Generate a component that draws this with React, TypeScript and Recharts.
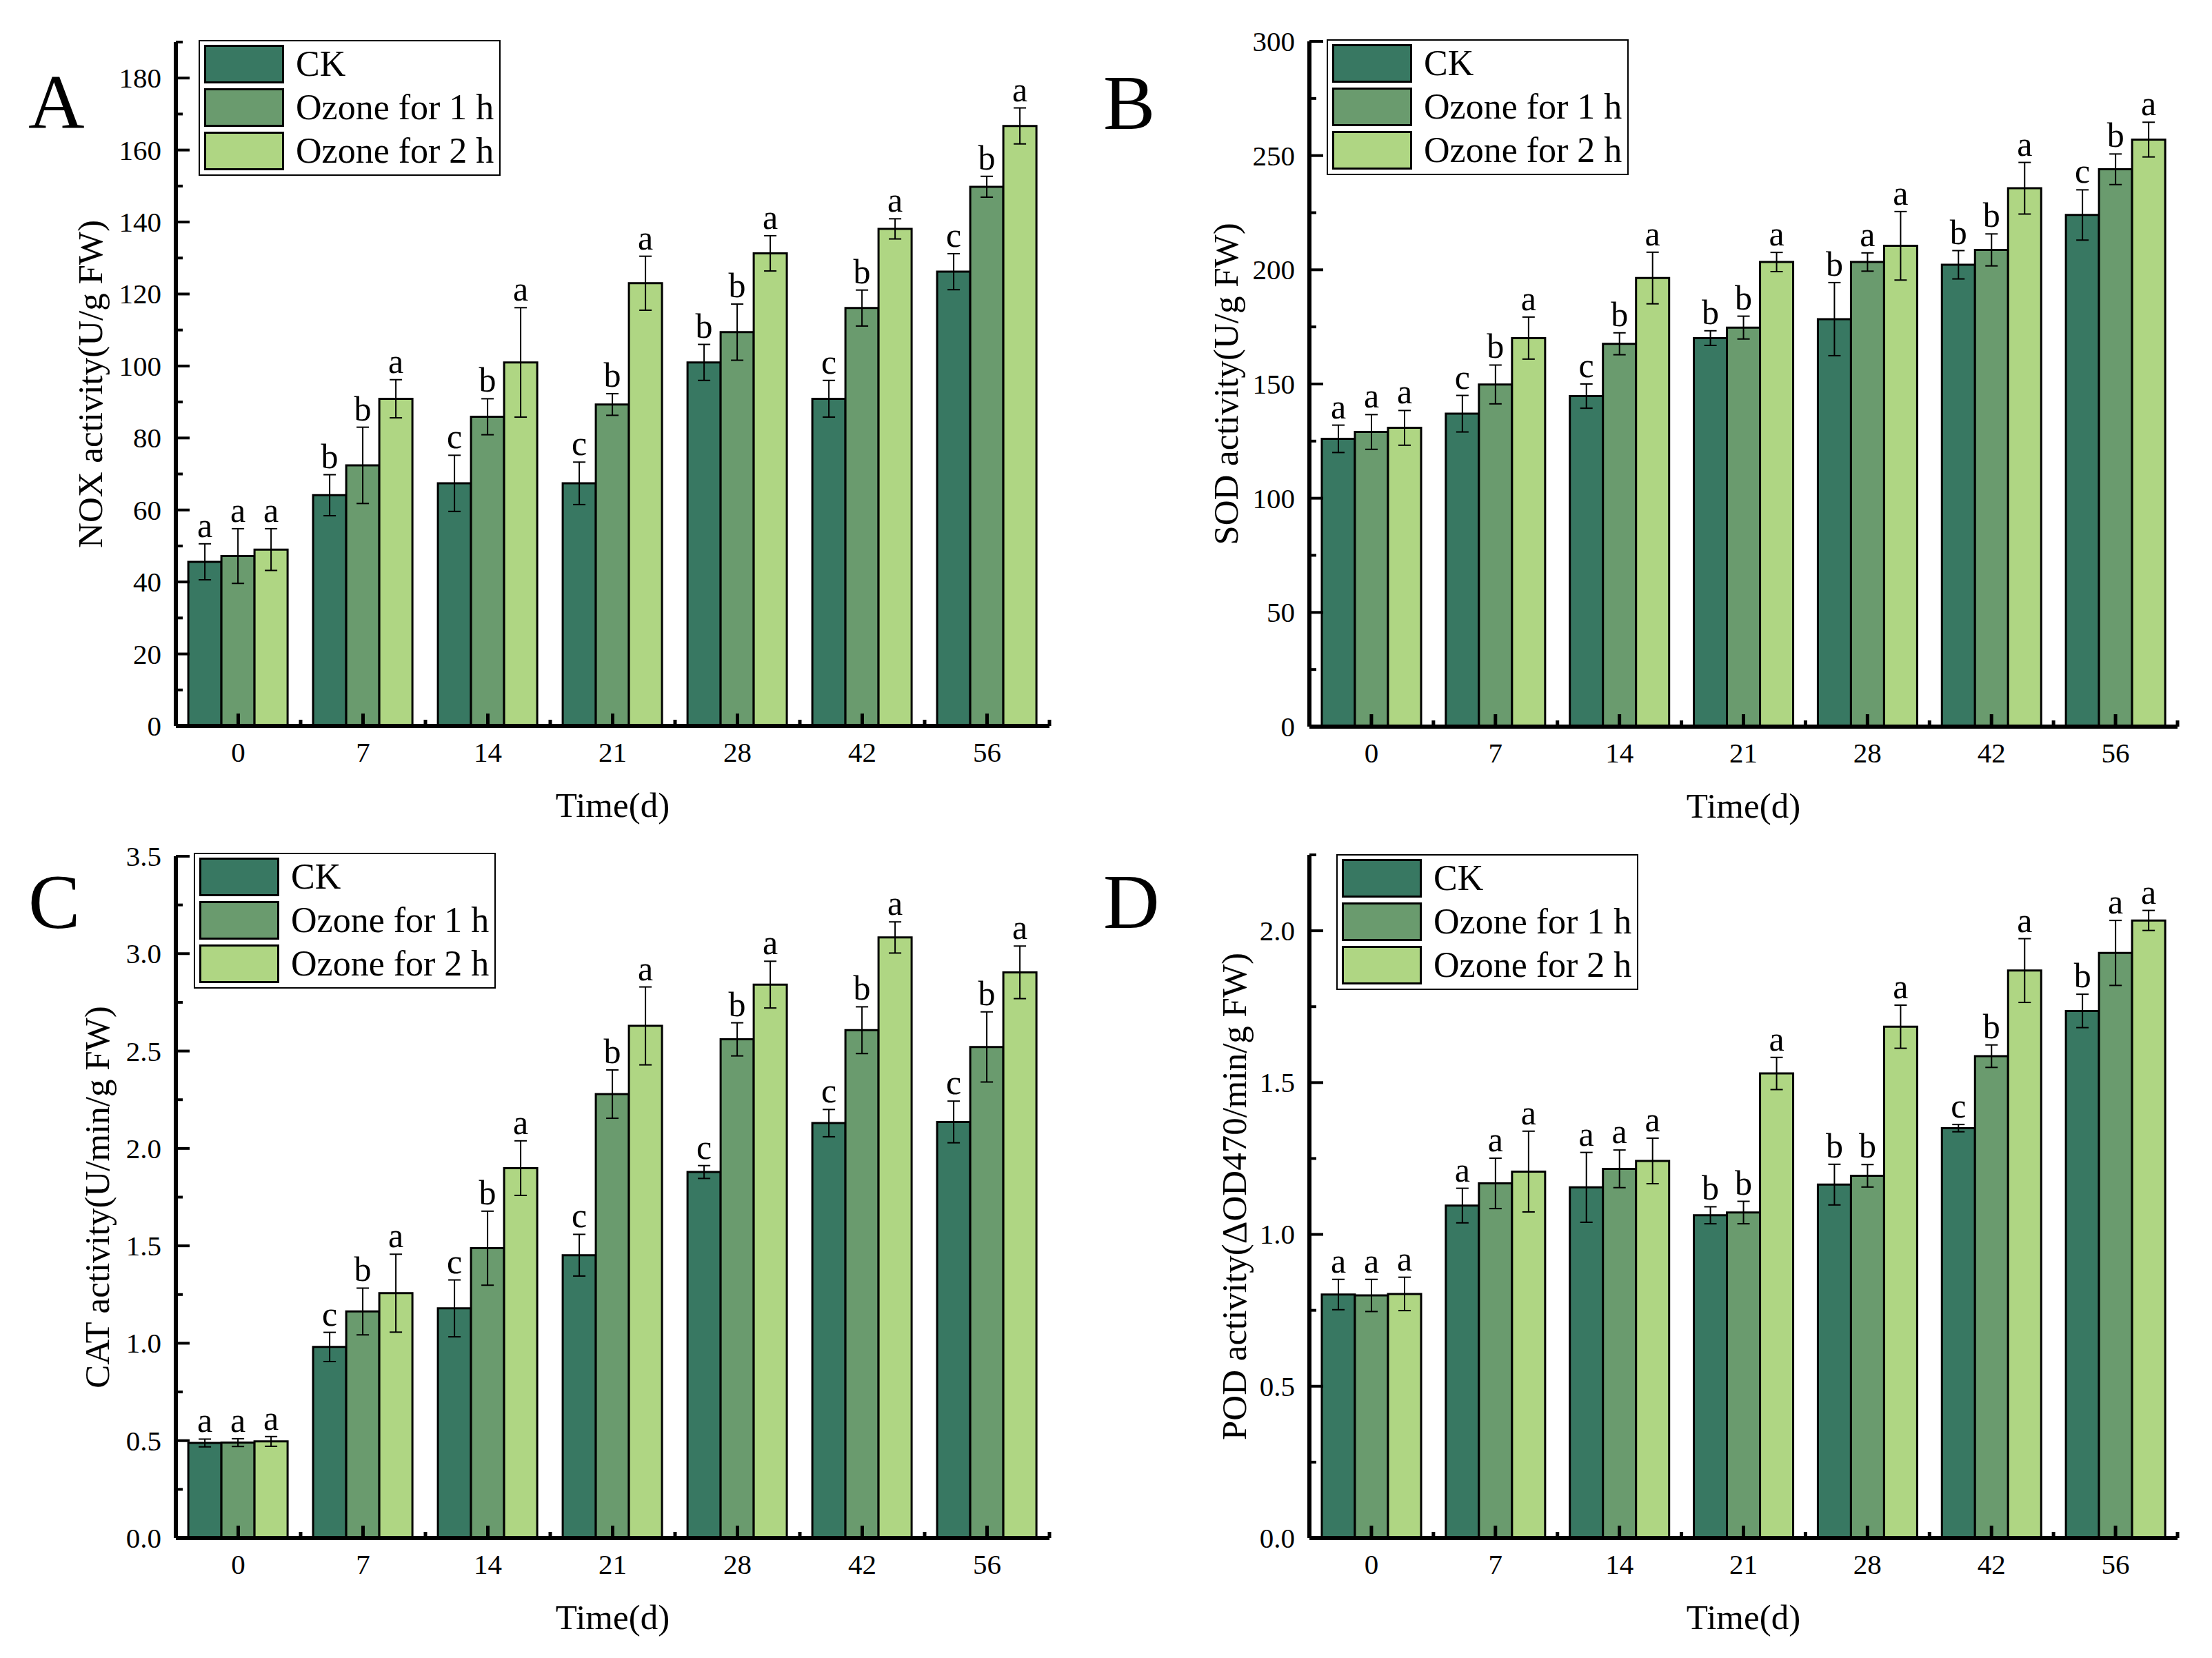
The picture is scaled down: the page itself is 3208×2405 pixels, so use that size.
import {
  Bar,
  BarChart,
  ErrorBar,
  LabelList,
  Legend,
  XAxis,
  YAxis,
} from "recharts";

const FONT = '"Liberation Serif", "Times New Roman", serif';

const DAYS = ["0", "7", "14", "21", "28", "42", "56"];
const SERIES_NAMES = ["CK", "Ozone for 1 h", "Ozone for 2 h"];
const SERIES_COLORS = ["#387862", "#6a9b6e", "#afd683"];

// A - NOX
const NOX_CK = [45.6, 64.1, 67.4, 67.4, 101.0, 90.9, 126.2];
const NOX_O1 = [47.2, 72.4, 85.9, 89.3, 109.4, 116.1, 149.8];
const NOX_O2 = [49.0, 90.9, 101.0, 123.0, 131.3, 138.1, 166.7];
const NOX_CK_ERR = [5.0, 5.7, 7.8, 5.9, 5.0, 5.1, 5.0];
const NOX_O1_ERR = [7.6, 10.6, 5.0, 3.0, 7.8, 5.0, 2.9];
const NOX_O2_ERR = [5.8, 5.3, 15.2, 7.5, 4.9, 2.8, 5.0];
const NOX_CK_SIG = ["a", "b", "c", "c", "b", "c", "c"];
const NOX_O1_SIG = ["a", "b", "b", "b", "b", "b", "b"];
const NOX_O2_SIG = ["a", "a", "a", "a", "a", "a", "a"];
const NOX_TICKS = [0, 10, 20, 30, 40, 50, 60, 70, 80, 90, 100, 110, 120, 130, 140, 150, 160, 170, 180, 190];
const NOX_LABELS = [0, 20, 40, 60, 80, 100, 120, 140, 160, 180];

// B - SOD
const SOD_CK = [126.0, 137.0, 144.7, 170.1, 178.4, 202.2, 224.0];
const SOD_O1 = [129.0, 149.8, 167.6, 174.7, 203.4, 208.7, 244.0];
const SOD_O2 = [130.8, 170.1, 196.4, 203.4, 210.5, 235.7, 257.0];
const SOD_CK_ERR = [6.0, 8.0, 5.3, 3.2, 16.0, 6.2, 11.0];
const SOD_O1_ERR = [7.6, 8.5, 4.8, 5.0, 4.0, 7.0, 6.7];
const SOD_O2_ERR = [7.6, 9.2, 11.3, 4.2, 15.0, 11.3, 7.6];
const SOD_CK_SIG = ["a", "c", "c", "b", "b", "b", "c"];
const SOD_O1_SIG = ["a", "b", "b", "b", "a", "b", "b"];
const SOD_O2_SIG = ["a", "a", "a", "a", "a", "a", "a"];
const SOD_TICKS = [0, 25, 50, 75, 100, 125, 150, 175, 200, 225, 250, 275, 300];
const SOD_LABELS = [0, 50, 100, 150, 200, 250, 300];

// C - CAT
const CAT_CK = [0.488, 0.981, 1.179, 1.452, 1.879, 2.13, 2.136];
const CAT_O1 = [0.49, 1.163, 1.488, 2.279, 2.56, 2.607, 2.521];
const CAT_O2 = [0.496, 1.257, 1.899, 2.629, 2.841, 3.083, 2.904];
const CAT_CK_ERR = [0.02, 0.075, 0.146, 0.107, 0.033, 0.07, 0.107];
const CAT_O1_ERR = [0.02, 0.12, 0.19, 0.124, 0.085, 0.12, 0.18];
const CAT_O2_ERR = [0.025, 0.2, 0.14, 0.2, 0.12, 0.08, 0.135];
const CAT_CK_SIG = ["a", "c", "c", "c", "c", "c", "c"];
const CAT_O1_SIG = ["a", "b", "b", "b", "b", "b", "b"];
const CAT_O2_SIG = ["a", "a", "a", "a", "a", "a", "a"];
const CAT_TICKS = [0, 0.25, 0.5, 0.75, 1, 1.25, 1.5, 1.75, 2, 2.25, 2.5, 2.75, 3, 3.25, 3.5];
const CAT_LABELS = [0, 0.5, 1, 1.5, 2, 2.5, 3, 3.5];

// D - POD
const POD_CK = [0.802, 1.095, 1.155, 1.063, 1.164, 1.35, 1.736];
const POD_O1 = [0.799, 1.168, 1.216, 1.072, 1.193, 1.587, 1.927];
const POD_O2 = [0.804, 1.207, 1.242, 1.53, 1.684, 1.869, 2.034];
const POD_CK_ERR = [0.05, 0.057, 0.115, 0.028, 0.067, 0.012, 0.055];
const POD_O1_ERR = [0.053, 0.083, 0.062, 0.037, 0.037, 0.037, 0.107];
const POD_O2_ERR = [0.055, 0.133, 0.075, 0.053, 0.071, 0.105, 0.033];
const POD_CK_SIG = ["a", "a", "a", "b", "b", "c", "b"];
const POD_O1_SIG = ["a", "a", "a", "b", "b", "b", "a"];
const POD_O2_SIG = ["a", "a", "a", "a", "a", "a", "a"];
const POD_TICKS = [0, 0.25, 0.5, 0.75, 1, 1.25, 1.5, 1.75, 2, 2.25];
const POD_LABELS = [0, 0.5, 1, 1.5, 2];

const KEYS = ["ck", "o1", "o2"];

type PanelProps = {
  left: number;
  top: number;
  width: number;
  height: number;
  plot: { l: number; t: number; r: number; b: number };
  values: number[][];
  errors: number[][];
  sigs: string[][];
  ticks: number[];
  labels: number[];
  fmt: (v: number) => string;
  yTitle: string;
  yTitleOffset: number;
  legendPos: { x: number; y: number };
};

const renderLegend = (props: any) => {
  const items = props.payload || [];
  return (
    <div
      style={{
        width: 438,
        height: 197,
        border: "2px solid #000",
        boxSizing: "border-box",
        background: "#fff",
        fontFamily: FONT,
        fontSize: 52,
        paddingTop: 5,
      }}
    >
      {items.map((it: any) => (
        <div
          key={it.value}
          style={{
            display: "flex",
            alignItems: "center",
            height: 56,
            lineHeight: "56px",
            marginBottom: 7,
            paddingLeft: 6,
            whiteSpace: "nowrap",
          }}
        >
          <span
            style={{
              display: "inline-block",
              width: 116,
              height: 56,
              boxSizing: "border-box",
              border: "3px solid #000",
              background: it.color,
              marginRight: 17,
            }}
          />
          <span>{it.value}</span>
        </div>
      ))}
    </div>
  );
};

function Panel(p: PanelProps) {
  const data = DAYS.map((d, i) => ({
    day: d,
    ck: p.values[0][i],
    o1: p.values[1][i],
    o2: p.values[2][i],
    ckErr: p.errors[0][i],
    o1Err: p.errors[1][i],
    o2Err: p.errors[2][i],
    ckSig: p.sigs[0][i],
    o1Sig: p.sigs[1][i],
    o2Sig: p.sigs[2][i],
  }));
  const band = (p.plot.r - p.plot.l) / DAYS.length;
  const maxY = p.ticks[p.ticks.length - 1];

  const yTick = (props: any) => {
    const { x, y, payload } = props;
    const v = payload.value;
    const major = p.labels.some((l) => Math.abs(l - v) < 1e-9);
    const ax = x + 21;
    return (
      <g>
        <line x1={ax} x2={ax + (major ? 20 : 10)} y1={y} y2={y} stroke="#000" strokeWidth={4} />
        {major && (
          <text x={x} y={y} dy="0.34em" textAnchor="end" fontFamily={FONT} fontSize={41} fill="#000">
            {p.fmt(v)}
          </text>
        )}
      </g>
    );
  };

  const xTick = (props: any) => {
    const { x, y, payload, index } = props;
    const ay = y - 52;
    return (
      <g>
        <line x1={x} x2={x} y1={ay} y2={ay - 18} stroke="#000" strokeWidth={5} />
        {index > 0 && (
          <line x1={x - band / 2} x2={x - band / 2} y1={ay} y2={ay - 9} stroke="#000" strokeWidth={5} />
        )}
        {index === DAYS.length - 1 && (
          <line x1={x + band / 2} x2={x + band / 2} y1={ay} y2={ay - 9} stroke="#000" strokeWidth={5} />
        )}
        <text x={x} y={y} textAnchor="middle" fontFamily={FONT} fontSize={41} fill="#000">
          {payload.value}
        </text>
      </g>
    );
  };

  const sigLabel = (s: number) => (props: any) => {
    const vb = props.viewBox || props;
    const { x, y, width, height } = vb;
    const i = props.index;
    const v = p.values[s][i];
    const e = p.errors[s][i];
    const errTop = y - (e * height) / v;
    return (
      <text
        key={`sig-${s}-${i}`}
        x={x + width / 2}
        y={errTop - 10}
        textAnchor="middle"
        fontFamily={FONT}
        fontSize={50}
        fill="#000"
      >
        {props.value}
      </text>
    );
  };

  const cy = (p.plot.t + p.plot.b) / 2;
  const tx = p.plot.l - p.yTitleOffset;

  return (
    <div style={{ position: "absolute", left: p.left, top: p.top }}>
      <BarChart
        width={p.width}
        height={p.height}
        data={data}
        margin={{ top: p.plot.t, right: p.width - p.plot.r, bottom: 0, left: 0 }}
        barCategoryGap="10%"
        barGap={0}
      >
        <Legend
          layout="vertical"
          align="center"
          verticalAlign="middle"
          content={renderLegend}
          wrapperStyle={{ left: p.legendPos.x, top: p.legendPos.y, width: 438, height: 197 }}
        />
        {KEYS.map((k, s) => (
          <Bar
            key={k}
            dataKey={k}
            name={SERIES_NAMES[s]}
            fill={SERIES_COLORS[s]}
            stroke="#000"
            strokeWidth={3}
            isAnimationActive={false}
          >
            <ErrorBar dataKey={`${k}Err`} width={9} stroke="#000" strokeWidth={2} />
            <LabelList dataKey={`${k}Sig`} content={sigLabel(s)} />
          </Bar>
        ))}
        <XAxis
          dataKey="day"
          type="category"
          height={p.height - p.plot.b}
          tickSize={0}
          tickMargin={52}
          tickLine={false}
          interval={0}
          axisLine={{ stroke: "#000", strokeWidth: 6 }}
          tick={xTick}
          label={() => (
            <text
              x={(p.plot.l + p.plot.r) / 2}
              y={p.plot.b + 132}
              textAnchor="middle"
              fontFamily={FONT}
              fontSize={51}
              fill="#000"
            >
              Time(d)
            </text>
          )}
        />
        <YAxis
          type="number"
          width={p.plot.l}
          domain={[0, maxY]}
          ticks={p.ticks}
          interval={0}
          tickSize={0}
          tickMargin={21}
          tickLine={false}
          axisLine={{ stroke: "#000", strokeWidth: 6 }}
          tick={yTick}
          label={() => (
            <text
              x={tx}
              y={cy}
              transform={`rotate(-90 ${tx} ${cy})`}
              textAnchor="middle"
              fontFamily={FONT}
              fontSize={51}
              fill="#000"
            >
              {p.yTitle}
            </text>
          )}
        />
      </BarChart>
    </div>
  );
}

const int = (v: number) => String(v);
const one = (v: number) => v.toFixed(1);

export default function App() {
  return (
    <div
      style={{
        position: "absolute",
        left: 0,
        top: 0,
        width: 3208,
        height: 2405,
        background: "#fff",
        overflow: "hidden",
      }}
    >
      <Panel
        left={0}
        top={0}
        width={1600}
        height={1200}
        plot={{ l: 255, t: 61, r: 1522, b: 1053 }}
        values={[NOX_CK, NOX_O1, NOX_O2]}
        errors={[NOX_CK_ERR, NOX_O1_ERR, NOX_O2_ERR]}
        sigs={[NOX_CK_SIG, NOX_O1_SIG, NOX_O2_SIG]}
        ticks={NOX_TICKS}
        labels={NOX_LABELS}
        fmt={int}
        yTitle="NOX activity(U/g FW)"
        yTitleOffset={107}
        legendPos={{ x: 288, y: 58 }}
      />
      <Panel
        left={1600}
        top={0}
        width={1608}
        height={1200}
        plot={{ l: 299, t: 60, r: 1558, b: 1054 }}
        values={[SOD_CK, SOD_O1, SOD_O2]}
        errors={[SOD_CK_ERR, SOD_O1_ERR, SOD_O2_ERR]}
        sigs={[SOD_CK_SIG, SOD_O1_SIG, SOD_O2_SIG]}
        ticks={SOD_TICKS}
        labels={SOD_LABELS}
        fmt={int}
        yTitle="SOD activity(U/g FW)"
        yTitleOffset={104}
        legendPos={{ x: 324, y: 57 }}
      />
      <Panel
        left={0}
        top={1200}
        width={1600}
        height={1205}
        plot={{ l: 255, t: 42, r: 1522, b: 1031 }}
        values={[CAT_CK, CAT_O1, CAT_O2]}
        errors={[CAT_CK_ERR, CAT_O1_ERR, CAT_O2_ERR]}
        sigs={[CAT_CK_SIG, CAT_O1_SIG, CAT_O2_SIG]}
        ticks={CAT_TICKS}
        labels={CAT_LABELS}
        fmt={one}
        yTitle="CAT activity(U/min/g FW)"
        yTitleOffset={97}
        legendPos={{ x: 281, y: 37 }}
      />
      <Panel
        left={1600}
        top={1200}
        width={1608}
        height={1205}
        plot={{ l: 299, t: 40, r: 1558, b: 1031 }}
        values={[POD_CK, POD_O1, POD_O2]}
        errors={[POD_CK_ERR, POD_O1_ERR, POD_O2_ERR]}
        sigs={[POD_CK_SIG, POD_O1_SIG, POD_O2_SIG]}
        ticks={POD_TICKS}
        labels={POD_LABELS}
        fmt={one}
        yTitle="POD activity(ΔOD470/min/g FW)"
        yTitleOffset={92}
        legendPos={{ x: 338, y: 39 }}
      />
      <svg
        width={3208}
        height={2405}
        style={{ position: "absolute", left: 0, top: 0, pointerEvents: "none" }}
      >
        <g fontFamily={FONT} fontSize={113} fill="#000">
          <text x={41} y={186}>A</text>
          <text x={1600} y={187}>B</text>
          <text x={41} y={1346}>C</text>
          <text x={1600} y={1346}>D</text>
        </g>
      </svg>
    </div>
  );
}
